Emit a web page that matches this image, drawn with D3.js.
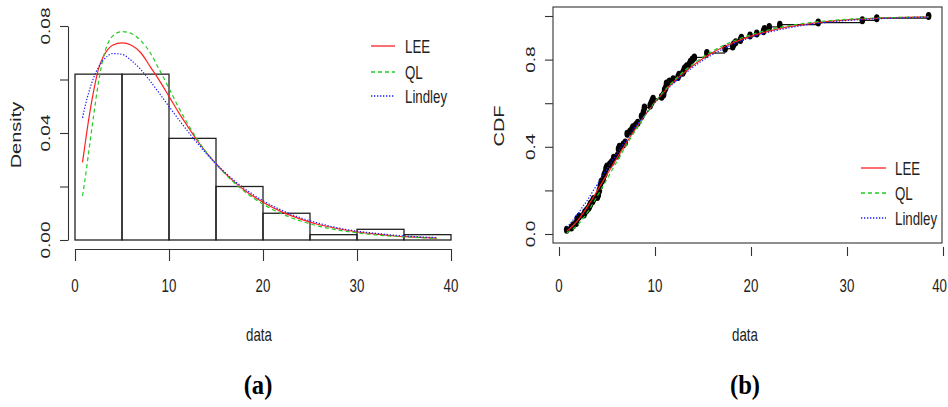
<!DOCTYPE html>
<html><head><meta charset="utf-8">
<script src="https://cdn.jsdelivr.net/npm/d3@7"></script>
<style>body{margin:0;background:#fff}svg{display:block}</style>
</head><body>
<svg id="chart" width="948" height="407"></svg>
<script>
// ---------- data ----------
const binEdges = [0, 5, 10, 15, 20, 25, 30, 35, 40];
const histDensity = [0.062, 0.062, 0.038, 0.020, 0.010, 0.002, 0.004, 0.002];

const curveX = [0.8, 1, 1.5, 2, 2.5, 3, 3.5, 4, 5, 6, 7, 8, 9, 10, 11, 12, 13, 14, 15, 16, 18, 20, 22, 24, 26, 28, 30, 32, 34, 36, 38.5];
const leePdf = [0.029, 0.034, 0.046, 0.056, 0.064, 0.0685, 0.0713, 0.0728, 0.0737, 0.0728, 0.0700, 0.0648, 0.0595, 0.0537, 0.0478, 0.0424, 0.0372, 0.0326, 0.0285, 0.0248, 0.0187, 0.0141, 0.0105, 0.0078, 0.0057, 0.0042, 0.0030, 0.0022, 0.0015, 0.0011, 0.0007];
const qlPdf = [0.0165, 0.021, 0.034, 0.047, 0.059, 0.068, 0.0735, 0.0762, 0.0779, 0.0772, 0.0745, 0.0700, 0.0635, 0.0567, 0.0497, 0.0434, 0.0377, 0.0327, 0.0285, 0.0246, 0.0182, 0.0134, 0.0098, 0.0071, 0.0051, 0.0037, 0.0027, 0.0019, 0.0014, 0.0010, 0.0006];
const lindleyPdf = [0.0457, 0.0489, 0.0556, 0.0608, 0.0646, 0.0672, 0.0689, 0.0697, 0.0694, 0.0671, 0.0637, 0.0594, 0.0547, 0.0499, 0.0452, 0.0406, 0.0363, 0.0322, 0.0285, 0.0251, 0.0193, 0.0147, 0.0111, 0.0083, 0.0062, 0.0045, 0.0033, 0.0025, 0.0018, 0.0013, 0.0009];

const leeCdf = [0.014, 0.020, 0.040, 0.065, 0.095, 0.128, 0.163, 0.200, 0.273, 0.346, 0.417, 0.485, 0.547, 0.604, 0.654, 0.700, 0.739, 0.774, 0.805, 0.832, 0.875, 0.908, 0.932, 0.951, 0.964, 0.975, 0.982, 0.987, 0.991, 0.994, 0.996];
const qlCdf = [0.006, 0.010, 0.024, 0.044, 0.070, 0.102, 0.138, 0.175, 0.252, 0.330, 0.406, 0.478, 0.545, 0.605, 0.658, 0.705, 0.746, 0.781, 0.812, 0.839, 0.882, 0.914, 0.938, 0.956, 0.969, 0.978, 0.985, 0.989, 0.992, 0.994, 0.996];
const lindleyCdf = [0.031, 0.040, 0.066, 0.095, 0.127, 0.158, 0.194, 0.229, 0.299, 0.367, 0.432, 0.494, 0.551, 0.603, 0.651, 0.694, 0.732, 0.766, 0.797, 0.823, 0.868, 0.902, 0.927, 0.946, 0.961, 0.971, 0.979, 0.985, 0.989, 0.992, 0.995];

const sample = [0.8, 0.8, 1.3, 1.5, 1.8, 1.9, 1.9, 2.1, 2.6, 2.7, 2.9, 3.1, 3.2, 3.3, 3.5, 3.6, 4.0, 4.1, 4.2, 4.2,
  4.3, 4.3, 4.4, 4.4, 4.6, 4.7, 4.7, 4.8, 4.9, 4.9, 5.0, 5.3, 5.5, 5.7, 5.7, 6.1, 6.2, 6.2, 6.2, 6.3,
  6.7, 6.9, 7.1, 7.1, 7.1, 7.1, 7.4, 7.6, 7.7, 8.0, 8.2, 8.6, 8.6, 8.6, 8.8, 8.8, 8.9, 8.9, 9.5, 9.6,
  9.7, 9.8, 10.7, 10.9, 11.0, 11.0, 11.1, 11.2, 11.2, 11.5, 11.9, 12.4, 12.5, 12.9, 13.0, 13.1, 13.3, 13.6, 13.7, 13.9,
  14.1, 15.4, 15.4, 17.3, 17.3, 18.1, 18.2, 18.4, 18.9, 19.0, 19.9, 20.6, 21.3, 21.4, 21.9, 23.0, 27.0, 31.6, 33.1, 38.5];

const seriesNames = ["LEE", "QL", "Lindley"];
const seriesColors = ["#ff2020", "#22cc22", "#1a1aff"];
const seriesDash = [null, "4,3", "1.3,1.7"];

const xTicks = [0, 10, 20, 30, 40];
const densTicks = [0, 0.02, 0.04, 0.06, 0.08];
const densLabels = ["0.00", "0.04", "0.08"];
const cdfTicks = [0, 0.2, 0.4, 0.6, 0.8, 1.0];
const cdfLabels = ["0.0", "0.4", "0.8"];

// ---------- drawing ----------
const svg = d3.select("#chart");
const FONT = "'Liberation Sans', Arial, sans-serif";
function txt(x, y, s, o = {}) {
  const size = o.size || 19, rot = o.rot || 0, sx = o.sx == null ? 0.7 : o.sx;
  svg.append("text")
    .attr("transform", `translate(${x},${y}) scale(${sx},1) rotate(${rot})`)
    .attr("text-anchor", o.anchor || "middle")
    .attr("dominant-baseline", "central")
    .style("font-family", o.family || FONT)
    .style("font-size", size + "px")
    .style("font-weight", o.weight || "normal")
    .style("fill", o.fill || "#222")
    .text(s);
}

// ----- Panel (a) -----
const xa = d3.scaleLinear().domain([0, 40]).range([75, 451]);
const ya = d3.scaleLinear().domain([0, 0.08]).range([240, 26]);

const gA = svg.append("g");
gA.selectAll("rect.bar").data(histDensity).join("rect")
  .attr("x", (d, i) => xa(binEdges[i]))
  .attr("width", (d, i) => xa(binEdges[i + 1]) - xa(binEdges[i]))
  .attr("y", d => ya(d))
  .attr("height", d => ya(0) - ya(d))
  .attr("fill", "none").attr("stroke", "#222").attr("stroke-width", 1.3);

const axYa = gA.append("g").attr("transform", `translate(68,0)`)
  .call(d3.axisLeft(ya).tickValues(densTicks).tickSize(8).tickSizeOuter(0).tickFormat(""));
const axXa = gA.append("g").attr("transform", `translate(0,249)`)
  .call(d3.axisBottom(xa).tickValues(xTicks).tickSize(12).tickSizeOuter(0).tickFormat(""));
[axYa, axXa].forEach(a => { a.selectAll("path,line").attr("stroke", "#333").attr("stroke-width", 1.1); });

const pdfs = [leePdf, qlPdf, lindleyPdf];
pdfs.forEach((vals, k) => {
  const line = d3.line().x((d, i) => xa(curveX[i])).y(d => ya(d)).curve(d3.curveMonotoneX);
  gA.append("path").datum(vals).attr("d", line)
    .attr("fill", "none").attr("stroke", seriesColors[k]).attr("stroke-width", 1.2)
    .attr("stroke-dasharray", seriesDash[k]);
});

xTicks.forEach(t => txt(xa(t), 285, String(t)));
densLabels.forEach(l => txt(45, ya(+l), l, { rot: -90 }));
txt(16, 135, "Density", { rot: -90, size: 20 });
txt(259, 334, "data");

const legAy = [46, 72, 96];
seriesNames.forEach((n, k) => {
  svg.append("line").attr("x1", 371).attr("x2", 395).attr("y1", legAy[k]).attr("y2", legAy[k])
    .attr("stroke", seriesColors[k]).attr("stroke-width", 1.3).attr("stroke-dasharray", seriesDash[k]);
  txt(405, legAy[k], n, { anchor: "start" });
});

// ----- Panel (b) -----
const xb = d3.scaleLinear().domain([0, 40]).range([559, 943]);
const yb = d3.scaleLinear().domain([0, 1]).range([234, 16]);
const gB = svg.append("g");

gB.append("rect").attr("x", 553).attr("y", 7).attr("width", 942 - 553).attr("height", 243 - 7)
  .attr("fill", "none").attr("stroke", "#333").attr("stroke-width", 1.1);

const axYb = gB.append("g").attr("transform", `translate(553,0)`)
  .call(d3.axisLeft(yb).tickValues(cdfTicks).tickSize(8).tickSizeOuter(0).tickFormat(""));
const axXb = gB.append("g").attr("transform", `translate(0,247)`)
  .call(d3.axisBottom(xb).tickValues(xTicks).tickSize(9).tickSizeOuter(0).tickFormat(""));
[axYb, axXb].forEach(a => { a.select("path.domain").remove(); a.selectAll("line").attr("stroke", "#333").attr("stroke-width", 1.1); });

const n = sample.length;
const counts = d3.rollups(sample, v => v.length, d => d).sort((a, b) => a[0] - b[0]);
let cum = 0;
const ecdf = counts.map(([x, c]) => { cum += c; return { x, F: cum / n }; });
gB.selectAll("line.step").data(ecdf.slice(0, -1)).join("line")
  .attr("x1", d => xb(d.x)).attr("x2", (d, i) => xb(ecdf[i + 1].x))
  .attr("y1", d => yb(d.F)).attr("y2", d => yb(d.F))
  .attr("stroke", "#111").attr("stroke-width", 1.2);
gB.selectAll("ellipse.pt").data(ecdf).join("ellipse")
  .attr("cx", d => xb(d.x)).attr("cy", d => yb(d.F))
  .attr("rx", 2.8).attr("ry", 4).attr("fill", "#000");

const cdfs = [leeCdf, qlCdf, lindleyCdf];
cdfs.forEach((vals, k) => {
  const line = d3.line().x((d, i) => xb(curveX[i])).y(d => yb(d)).curve(d3.curveMonotoneX);
  gB.append("path").datum(vals).attr("d", line)
    .attr("fill", "none").attr("stroke", seriesColors[k]).attr("stroke-width", 1.2)
    .attr("stroke-dasharray", seriesDash[k]);
});

xTicks.forEach(t => {
  if (t === 40) txt(947, 285, String(t), { anchor: "end" });
  else txt(xb(t), 285, String(t));
});
cdfLabels.forEach(l => txt(530, yb(+l), l, { rot: -90 }));
txt(499, 126, "CDF", { rot: -90, size: 20 });
txt(745, 334, "data");

const legBy = [168, 193, 218];
seriesNames.forEach((nm, k) => {
  svg.append("line").attr("x1", 861).attr("x2", 886).attr("y1", legBy[k]).attr("y2", legBy[k])
    .attr("stroke", seriesColors[k]).attr("stroke-width", 1.3).attr("stroke-dasharray", seriesDash[k]);
  txt(895, legBy[k], nm, { anchor: "start" });
});

txt(258, 385, "(a)", { family: "'Liberation Serif', 'Times New Roman', serif", weight: "bold", size: 28, sx: 0.88, fill: "#000" });
txt(745, 385, "(b)", { family: "'Liberation Serif', 'Times New Roman', serif", weight: "bold", size: 28, sx: 0.88, fill: "#000" });
</script>
</body></html>
